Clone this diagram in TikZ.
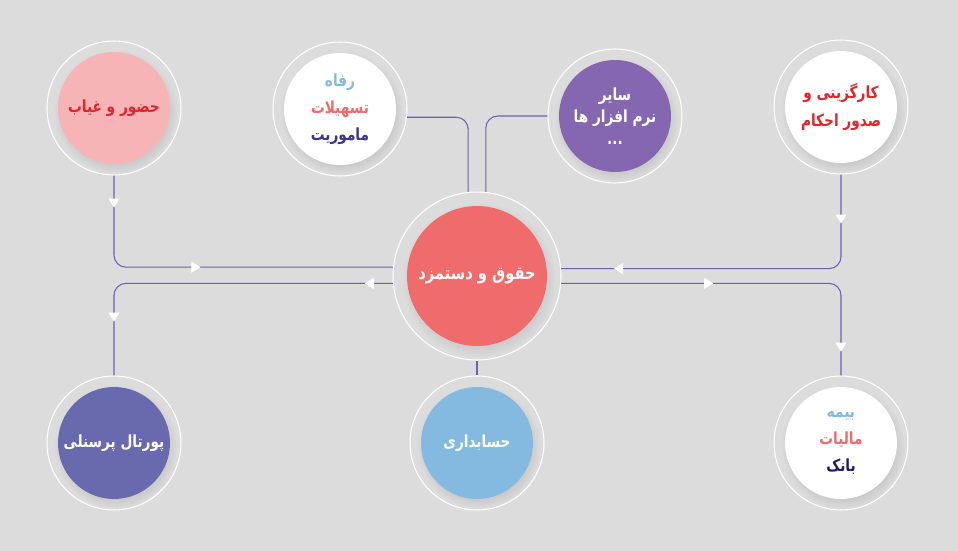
\documentclass[tikz,border=0pt]{standalone}
\usepackage{fontspec}
\usepackage{tikz}
\usetikzlibrary{arrows.meta}
\usetikzlibrary{decorations.markings}
\usetikzlibrary{shadows}
\TeXXeTstate=1
\newfontfamily\arabicfont[Script=Arabic, FakeStretch=0.82]{DejaVu Sans}
\definecolor{mbg}{rgb}{0.863, 0.863, 0.863}
\definecolor{mline}{rgb}{0.42, 0.38, 0.70}
\definecolor{mpink}{rgb}{0.969, 0.706, 0.714}
\definecolor{mred}{rgb}{0.89, 0.14, 0.17}
\definecolor{coral}{rgb}{0.941, 0.42, 0.424}
\definecolor{mpurple}{rgb}{0.52, 0.40, 0.69}
\definecolor{mviolet}{rgb}{0.41, 0.41, 0.68}
\definecolor{lblue}{rgb}{0.52, 0.73, 0.88}
\definecolor{mindigo}{rgb}{0.24, 0.2, 0.55}
\definecolor{mnavy}{rgb}{0.12, 0.1, 0.43}
\tikzset{ring/.style = {circle, draw = white, line width = 0.6pt, fill = mbg, inner sep = 0, minimum size = 2.68cm}}
\tikzset{bigring/.style = {ring, minimum size = 3.36cm}}
\tikzset{disc/.style = {circle, inner sep = 0, minimum size = 2.24cm, align = center,
    font = \arabicfont\bfseries\fontsize{9.5}{15.5}\selectfont,
    circular drop shadow = {shadow xshift = 1pt, shadow yshift = -2pt, opacity = 0.18}}}
\tikzset{bigdisc/.style = {disc, minimum size = 2.8cm, font = \arabicfont\bfseries\fontsize{10.2}{15}\selectfont}}
\tikzset{wtip/.tip = {Triangle[width = 0.22cm, length = 0.18cm, color = white]}}
\tikzset{link/.style = {mline, line width = 0.6pt, rounded corners = 0.24cm}}
\tikzset{tips/.style 2 args = {postaction = {decorate, decoration = {markings,
    mark = at position #1 with {\arrow{wtip}},
    mark = at position #2 with {\arrow{wtip}}}}}}

\begin{document}
\begin{tikzpicture}[x = 0.02cm, y = -0.02cm]
    \useasboundingbox (0, 0) rectangle (958, 551);
    \fill [mbg] (0, 0) rectangle (958, 551);

    \node [ring] (hozur) at (114, 108) {};
    \node [ring] (refah) at (340, 109) {};
    \node [ring] (sayer) at (615, 116) {};
    \node [ring] (kargozini) at (841, 107) {};
    \node [bigring] (hoghoogh) at (477, 276) {};
    \node [ring] (portal) at (114, 443) {};
    \node [ring] (hesab) at (477, 443) {};
    \node [ring] (bime) at (841, 443) {};

    \draw [link, tips = {0.64cm}{3.46cm}] (hozur.south) |- (hoghoogh.174.5);
    \draw [link, tips = {0.56cm}{6.24cm}] (hoghoogh.185.5) -| (portal.north);
    \draw [link, tips = {0.98cm}{6.32cm}] (kargozini.south) |- (hoghoogh.5.5);
    \draw [link, tips = {3.04cm}{6.86cm}] (hoghoogh.-5.5) -| (bime.north);
    \draw [link] (refah.-7) -| (hoghoogh.96);
    \draw [link] (sayer.west) -| (hoghoogh.84);
    \draw [link] (hoghoogh.south) -- (hesab.north);

    \node [disc, fill = mpink, text = mred] (hozurdisc) at (hozur) {\beginR حضور و غیاب\endR};
    \node [disc, fill = white] (refahdisc) at (refah)
        {\textcolor{lblue}{\beginR رفاه\endR}\\ \textcolor{coral}{\beginR تسهیلات\endR}\\ \textcolor{mindigo}{\beginR ماموریت\endR}};
    \node [disc, fill = mpurple, text = white, font = \arabicfont\bfseries\fontsize{9.5}{12.5}\selectfont] (sayerdisc) at (sayer)
        {\beginR سایر\endR\\ \beginR نرم افزار ها\endR\\ ...};
    \node [disc, fill = white, text = mred] (kargozinidisc) at (kargozini)
        {\beginR کارگزینی و\endR\\ \beginR صدور احکام\endR};
    \node [bigdisc, fill = coral, text = white] (hoghooghdisc) at (hoghoogh) {\beginR حقوق و دستمزد\endR};
    \node [disc, fill = mviolet, text = white] (portaldisc) at (portal) {\beginR پورتال پرسنلی\endR};
    \node [disc, fill = lblue, text = white] (hesabdisc) at (hesab) {\beginR حسابداری\endR};
    \node [disc, fill = white] (bimedisc) at (bime)
        {\textcolor{lblue}{\beginR بیمه\endR}\\ \textcolor{coral}{\beginR مالیات\endR}\\ \textcolor{mnavy}{\beginR بانک\endR}};
  \end{tikzpicture}
\end{document}
